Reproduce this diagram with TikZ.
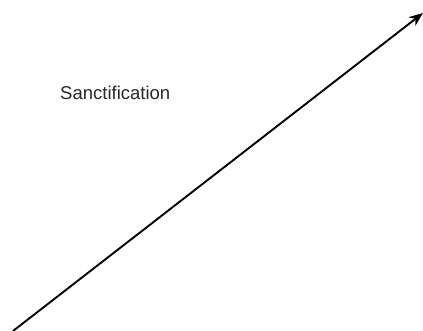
\documentclass[tikz,border=0pt]{standalone}
\usepackage{fontspec}
\setmainfont{Liberation Sans}
\usetikzlibrary{arrows.meta}

\begin{document}
\begin{tikzpicture}[
    x=1pt, y=1pt,
    arr/.style={-{Stealth[length=14pt, width=11pt]}, line width=1.9pt},
    lbl/.style={inner sep=0pt, anchor=base west, font=\fontsize{18.5}{22}\selectfont, text=black!85}
]
\useasboundingbox (0,0) rectangle (423,331);

\coordinate (low) at (13,0);
\coordinate (high) at (423,318);
\node[lbl] (sanct) at (60,231) {Sanctification};

\draw[arr] (low) -- (high);

\end{tikzpicture}
\end{document}
